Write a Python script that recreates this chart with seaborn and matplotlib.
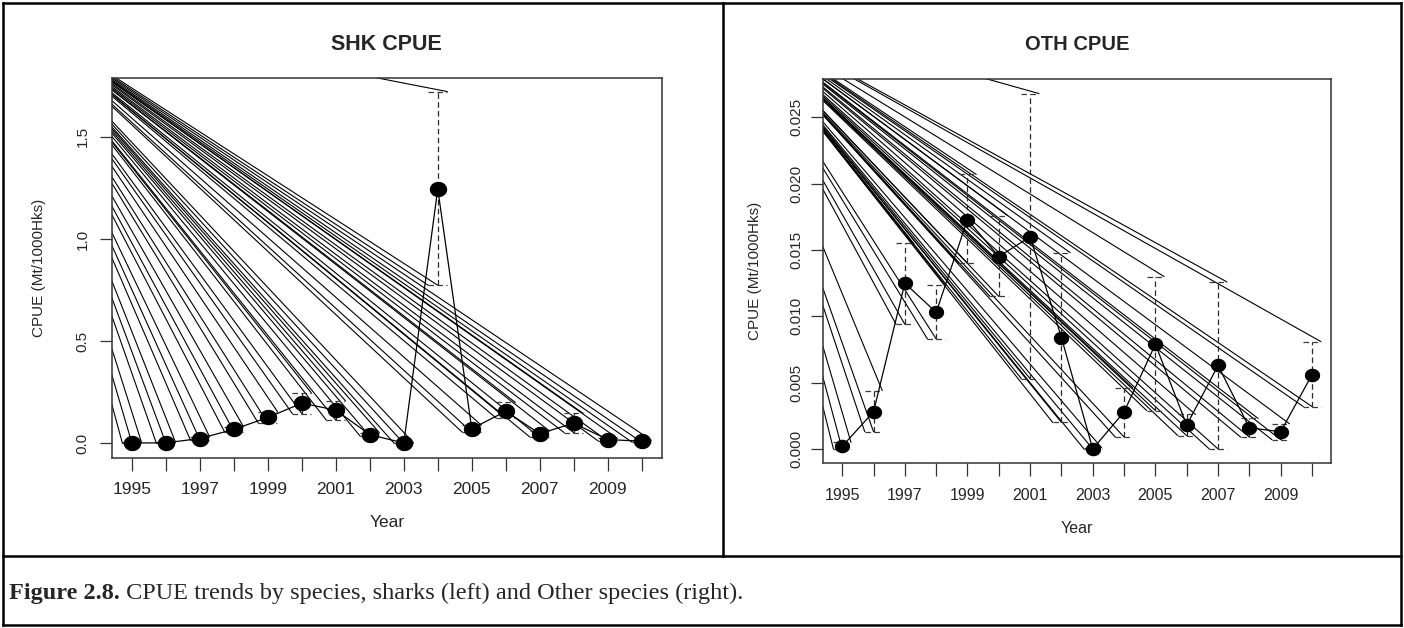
import numpy as np
import matplotlib
matplotlib.use("Agg")
import matplotlib.pyplot as plt
from matplotlib.lines import Line2D
from matplotlib.path import Path
import seaborn as sns

# ---- data -------------------------------------------------------------
years = list(range(1995, 2011))

shk_cpue = [0.002, 0.003, 0.024, 0.069, 0.127, 0.197, 0.163, 0.043,
            0.002, 1.246, 0.072, 0.157, 0.048, 0.099, 0.019, 0.011]
shk_lower = [0.000, 0.000, 0.016, 0.058, 0.099, 0.146, 0.114, 0.035,
             0.000, 0.774, 0.055, 0.124, 0.030, 0.053, 0.012, 0.006]
shk_upper = [0.005, 0.006, 0.033, 0.082, 0.156, 0.247, 0.209, 0.053,
             0.004, 1.722, 0.090, 0.201, 0.062, 0.147, 0.026, 0.016]

oth_cpue = [0.0002, 0.0028, 0.0125, 0.0103, 0.0173, 0.0145, 0.0160, 0.0084,
            0.0000, 0.0028, 0.0079, 0.0018, 0.0063, 0.0016, 0.0013, 0.0056]
oth_lower = [0.0000, 0.0013, 0.0094, 0.0083, 0.0140, 0.0115, 0.0053, 0.0020,
             0.0000, 0.0009, 0.0029, 0.0010, 0.0000, 0.0009, 0.0007, 0.0032]
oth_upper = [0.0005, 0.0044, 0.0155, 0.0124, 0.0207, 0.0176, 0.0268, 0.0148,
             0.0001, 0.0046, 0.0130, 0.0026, 0.0126, 0.0023, 0.0019, 0.0081]

year_ticks = years
year_labels = ["1995", "", "1997", "", "1999", "", "2001", "", "2003", "",
               "2005", "", "2007", "", "2009", ""]
shk_yticks = [0.0, 0.5, 1.0, 1.5]
shk_ylabels = ["0.0", "0.5", "1.0", "1.5"]
oth_yticks = [0.0, 0.005, 0.010, 0.015, 0.020, 0.025]
oth_ylabels = ["0.000", "0.005", "0.010", "0.015", "0.020", "0.025"]

shk_title = "SHK CPUE"
oth_title = "OTH CPUE"
x_title = "Year"
y_title = "CPUE (Mt/1000Hks)"
caption_head = "Figure 2.8."
caption_body = " CPUE trends by species, sharks (left) and Other species (right)."

# ---- figure -----------------------------------------------------------
W, H = 1404, 628
sns.set_style("ticks")
plt.rcParams["font.family"] = ["Liberation Sans", "DejaVu Sans"]
plt.rcParams["lines.scale_dashes"] = False

fig = plt.figure(figsize=(W / 100, H / 100), dpi=100)
fig.patch.set_facecolor("white")


def px_axes(left, top, right, bottom):
    return fig.add_axes([left / W, 1 - bottom / H, (right - left) / W, (bottom - top) / H])


# oval point marker (the plots are slightly stretched horizontally)
theta = np.linspace(0, 2 * np.pi, 73)
oval = Path(np.column_stack([1.13 * np.cos(theta), np.sin(theta)]))


def r_range(lo, hi):
    pad = 0.04 * (hi - lo)
    return lo - pad, hi + pad


def panel(ax, cpue, lower, upper, yticks, ylabels, title, cell_corner,
          msize, fs_x, fs_title, ytick_pad, ylab_x, xlab_y, title_y):
    x = np.array(years, dtype=float)
    lo = np.array(lower)
    hi = np.array(upper)
    ax.set_xlim(*r_range(min(years), max(years)))
    ax.set_ylim(*r_range(min(lower), max(upper)))
    ax.set_autoscale_on(False)
    half = 0.28

    # stray segments running from the cell corner to each interval end
    inv = ax.transData.inverted()
    ox, oy = inv.transform((cell_corner[0], H - cell_corner[1]))
    ends = [(xi + half, h) for xi, h in zip(x, hi)] + \
           [(xi - half, l) for xi, l in zip(x, lo)] + \
           [(xi, l) for xi, l in zip(x, lo)]
    for ex, ey in ends:
        ax.plot([ox, ex], [oy, ey], color="black", lw=0.8, zorder=1)

    # dashed confidence intervals with caps
    dash = (0, (4.0, 2.4))
    ax.vlines(x, lo, hi, colors="#2a2a2a", linestyles=dash, lw=0.9, zorder=2)
    ax.hlines(hi, x - half, x + half, colors="#3a3a3a", linestyles=dash, lw=0.9, zorder=2)
    ax.hlines(lo, x - half, x + half, colors="#3a3a3a", linestyles=dash, lw=0.9, zorder=2)

    sns.lineplot(x=years, y=cpue, ax=ax, color="black", lw=0.9, zorder=3)
    sns.scatterplot(x=years, y=cpue, ax=ax, color="black", marker=oval,
                    s=msize ** 2, linewidth=0, zorder=4)

    ax.set_xticks(year_ticks)
    ax.set_xticklabels(year_labels, fontsize=fs_x)
    ax.set_yticks(yticks)
    ax.set_yticklabels(ylabels, fontsize=11, rotation=90, va="center")
    ax.tick_params(axis="x", length=9, width=0.9, pad=8.5, color="#333333")
    ax.tick_params(axis="y", length=9, width=0.9, pad=ytick_pad, color="#333333")
    for sp in ax.spines.values():
        sp.set_color("#333333")
        sp.set_linewidth(1.1)

    ax.set_xlabel(x_title, fontsize=fs_x)
    ax.set_ylabel(y_title, fontsize=11)
    ax.xaxis.set_label_coords(0.5, xlab_y)
    ax.yaxis.set_label_coords(ylab_x, 0.5)
    ax.text(0.5, title_y, title, transform=ax.transAxes, ha="center", va="center",
            fontsize=fs_title, fontweight="bold")


ax1 = px_axes(111.6, 77.5, 662.0, 457.5)
ax2 = px_axes(823.4, 79.3, 1330.8, 463.2)

panel(ax1, shk_cpue, shk_lower, shk_upper, shk_yticks, shk_ylabels, shk_title,
      (3, 5), 12.5, 12.5, 15.5, 7.0, -0.119, -0.151, 1.0866)
panel(ax2, oth_cpue, oth_lower, oth_upper, oth_yticks, oth_ylabels, oth_title,
      (723, 5), 11, 11.5, 14.5, 5.6, -0.121, -0.1495, 1.0904)

# ---- table frame and caption -------------------------------------------
def frame_line(x0, y0, x1, y1):
    fig.add_artist(Line2D([x0 / W, x1 / W], [1 - y0 / H, 1 - y1 / H],
                          transform=fig.transFigure, color="black", lw=1.8,
                          solid_capstyle="projecting"))


frame_line(3, 3, 1401, 3)
frame_line(3, 625, 1401, 625)
frame_line(3, 3, 3, 625)
frame_line(1401, 3, 1401, 625)
frame_line(723, 3, 723, 556)
frame_line(3, 556, 1401, 556)

serif = ["Liberation Serif", "DejaVu Serif"]
head = fig.text(9 / W, 1 - 593 / H, caption_head, fontsize=17.5, family=serif,
                fontweight="bold", va="center", ha="left")
renderer = fig.canvas.get_renderer()
bb = head.get_window_extent(renderer=renderer)
fig.text(bb.x1 / W, 1 - 593 / H, caption_body, fontsize=17.5, family=serif,
         va="center", ha="left")

fig.savefig("out.png", dpi=100, facecolor="white")
